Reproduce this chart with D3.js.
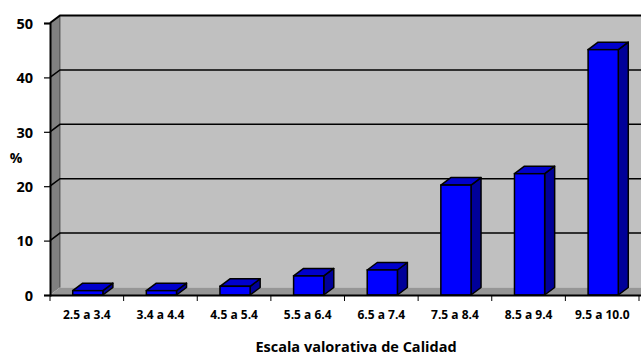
<!DOCTYPE html>
<html><head><meta charset="utf-8">
<script src="https://cdn.jsdelivr.net/npm/d3@7"></script>
<style>body{margin:0;background:#fff}svg{display:block}text{font-family:"Open Sans",Lato,sans-serif;font-weight:bold;fill:#000}</style>
</head><body><div id="chart"></div>
<script>
const categories = ["2.5 a 3.4","3.4 a 4.4","4.5 a 5.4","5.5 a 6.4","6.5 a 7.4","7.5 a 8.4","8.5 a 9.4","9.5 a 10.0"];
const values = [0.8, 0.8, 1.6, 3.5, 4.6, 20.2, 22.3, 45.1];
const yTicks = [0, 10, 20, 30, 40, 50];
const xTitle = "Escala valorativa de Calidad";
const yTitle = "%";

(function(){
const W = 641, H = 355;
const pL = 50, pR = 639, pB = 295, pT = 23;
const dx = 10, dy = -7.5;
const FONT = "'Open Sans', Lato, sans-serif";

const svg = d3.select("#chart").append("svg").attr("width", W).attr("height", H);
const x = d3.scaleBand().domain(categories).range([pL, pR]).padding(0);
const y = d3.scaleLinear().domain([0, 50]).range([pB, pT]);

svg.append("rect").attr("x", pL + dx).attr("y", pT + dy).attr("width", W - pL - dx).attr("height", pB - pT)
  .attr("fill", "#c0c0c0");
svg.append("polygon").attr("points", [[pL, pT],[pL+dx, pT+dy],[pL+dx, pB+dy],[pL, pB]].join(" "))
  .attr("fill", "#808080");
svg.append("polygon").attr("points", [[pL, pB],[pL+dx, pB+dy],[W, pB+dy],[W, pB]].join(" "))
  .attr("fill", "#969696");

yTicks.forEach(t => {
  if (t === 0) return;
  const yy = y(t);
  svg.append("path").attr("d", `M${pL},${yy}L${pL+dx},${yy+dy}L${W},${yy+dy}`)
    .attr("fill", "none").attr("stroke", "#000").attr("stroke-width", t === 50 ? 2 : 1.5);
});
svg.append("line").attr("x1", pL+dx).attr("x2", pL+dx).attr("y1", pT+dy).attr("y2", pB+dy)
  .attr("stroke", "#000").attr("stroke-width", 0.8).attr("opacity", 0.6);

const bw = x.bandwidth() * 0.41;
const g = svg.append("g");
categories.forEach((c, i) => {
  const x0 = x(c) + (x.bandwidth() - bw) / 2 + 1;
  const x1 = x0 + bw;
  const yt = y(values[i]);
  const yb = y(0);
  g.append("polygon").attr("points", [[x1, yt],[x1+dx, yt+dy],[x1+dx, yb+dy],[x1, yb]].join(" "))
    .attr("fill", "#000099").attr("stroke", "#000").attr("stroke-width", 1.5).attr("stroke-linejoin", "round");
  g.append("polygon").attr("points", [[x0, yt],[x0+dx, yt+dy],[x1+dx, yt+dy],[x1, yt]].join(" "))
    .attr("fill", "#0000cc").attr("stroke", "#000").attr("stroke-width", 1.5).attr("stroke-linejoin", "round");
  g.append("rect").attr("x", x0).attr("y", yt).attr("width", bw).attr("height", yb - yt)
    .attr("fill", "#0000ff").attr("stroke", "#000").attr("stroke-width", 1.5);
});

const yAxis = svg.append("g").attr("transform", `translate(${pL},0)`)
  .call(d3.axisLeft(y).tickValues(yTicks).tickSize(6).tickPadding(11));
yAxis.select(".domain").attr("stroke", "#000").attr("stroke-width", 2);
yAxis.selectAll(".tick line").attr("stroke", "#000").attr("stroke-width", 1.2);
yAxis.selectAll(".tick text").style("font-size", "14.5px").style("font-family", FONT).style("font-weight", "bold").attr("dy", "0.36em");

const xAxis = svg.append("g").attr("transform", `translate(0,${pB})`)
  .call(d3.axisBottom(x).tickSize(0).tickPadding(15));
xAxis.select(".domain").attr("d", `M${pL},0.5H${W}`).attr("stroke", "#000").attr("stroke-width", 2);
xAxis.selectAll(".tick text").style("font-size", "12px").style("font-family", FONT).style("font-weight", "bold");
const bounds = categories.map(c => x(c)).concat([x(categories[categories.length-1]) + x.bandwidth()]);
svg.append("g").selectAll("line").data(bounds).join("line")
  .attr("x1", d => d).attr("x2", d => d).attr("y1", pB).attr("y2", pB + 6)
  .attr("stroke", "#000").attr("stroke-width", 1);

svg.append("text").attr("x", 356).attr("y", 352).attr("text-anchor", "middle").style("font-size", "14.5px").text(xTitle);
svg.append("text").attr("x", 16).attr("y", 163).attr("text-anchor", "middle").style("font-size", "14px").text(yTitle);
})();
</script></body></html>
